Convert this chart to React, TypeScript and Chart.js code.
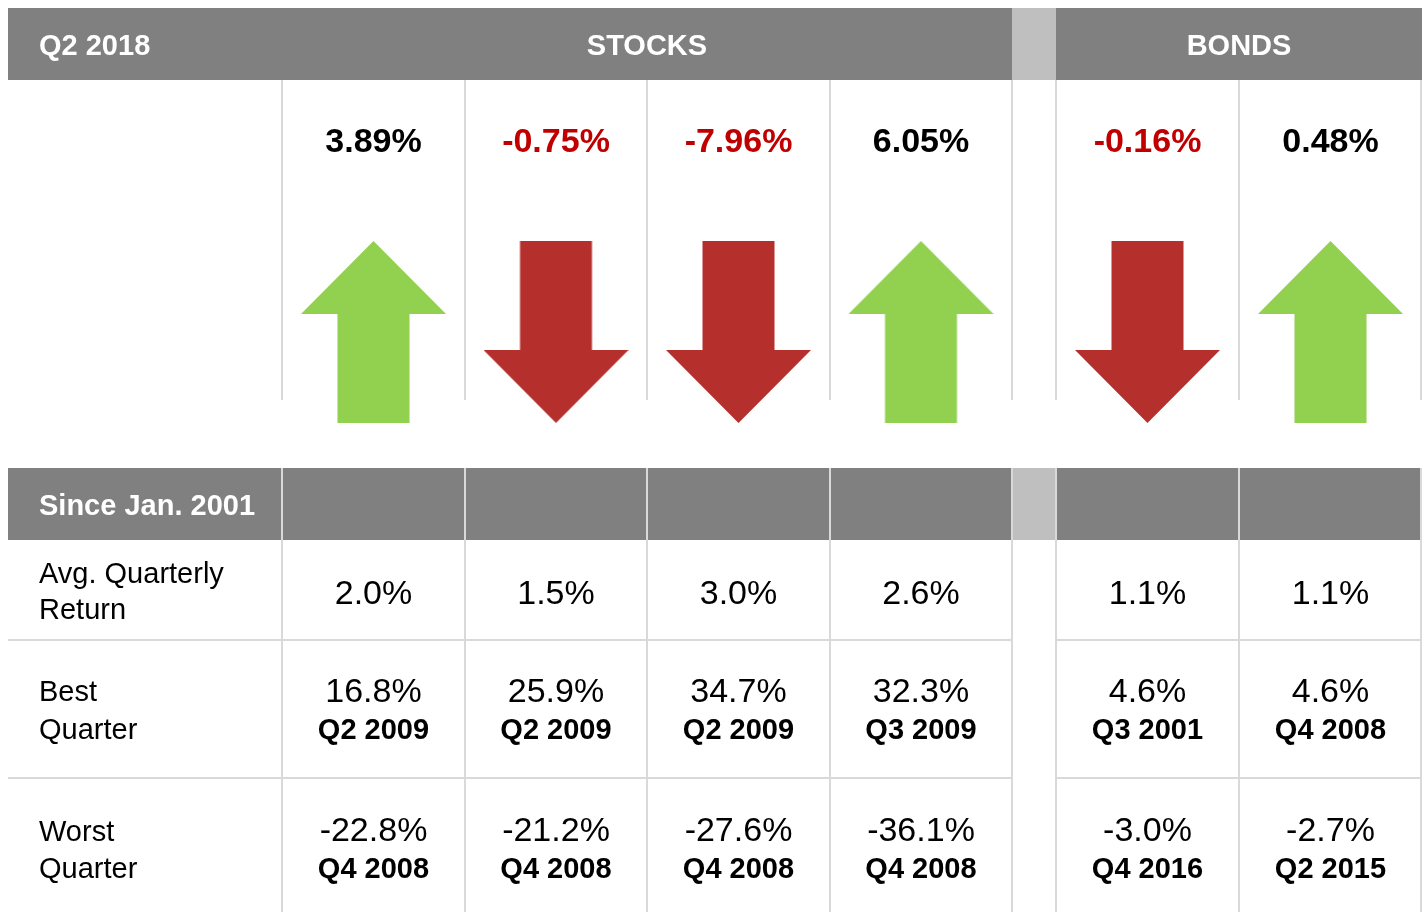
import React, { useEffect, useRef } from "react";
import { Chart, registerables } from "chart.js";

Chart.register(...registerables);

// ---------- data ----------
const PERIOD_LABEL = "Q2 2018";
const SINCE_LABEL = "Since Jan. 2001";
const GROUP_LABELS = ["STOCKS", "BONDS"];
const GROUP_OF_COLUMN = [0, 0, 0, 0, 1, 1];
const QUARTER_RETURNS = [3.89, -0.75, -7.96, 6.05, -0.16, 0.48];
const AVG_RETURNS = [2.0, 1.5, 3.0, 2.6, 1.1, 1.1];
const BEST_RETURNS = [16.8, 25.9, 34.7, 32.3, 4.6, 4.6];
const BEST_QUARTERS = ["Q2 2009", "Q2 2009", "Q2 2009", "Q3 2009", "Q3 2001", "Q4 2008"];
const WORST_RETURNS = [-22.8, -21.2, -27.6, -36.1, -3.0, -2.7];
const WORST_QUARTERS = ["Q4 2008", "Q4 2008", "Q4 2008", "Q4 2008", "Q4 2016", "Q2 2015"];
const ROW_LABELS = [
  ["Avg. Quarterly", "Return"],
  ["Best", "Quarter"],
  ["Worst", "Quarter"],
];

// ---------- layout (pixels) ----------
const W = 1428;
const H = 912;
const LEFT = 8;
const LABEL_RIGHT = 282;
const STOCK_EDGES = [282, 465, 647, 830, 1012];
const GAP = [1012, 1056];
const BOND_EDGES = [1056, 1239, 1422];
const COL_LEFT = [282, 465, 647, 830, 1056, 1239];
const COL_RIGHT = [465, 647, 830, 1012, 1239, 1422];
const ARROW_Y = 332;

const GRAY = "#808080";
const LIGHT = "#bfbfbf";
const LINE = "#d9d9d9";
const GREEN = "#92d050";
const RED_ARROW = "#b5302c";
const RED_TEXT = "#c00000";
const FONT = '"Liberation Sans", Arial, sans-serif';

function makeArrow(up: boolean): HTMLCanvasElement {
  const w = 145, h = 182, head = 73, shaft = 72;
  const c = document.createElement("canvas");
  c.width = w;
  c.height = h;
  const g = c.getContext("2d")!;
  g.fillStyle = up ? GREEN : RED_ARROW;
  g.beginPath();
  const s0 = (w - shaft) / 2, s1 = (w + shaft) / 2;
  if (up) {
    g.moveTo(w / 2, 0);
    g.lineTo(w, head);
    g.lineTo(s1, head);
    g.lineTo(s1, h);
    g.lineTo(s0, h);
    g.lineTo(s0, head);
    g.lineTo(0, head);
  } else {
    g.moveTo(s0, 0);
    g.lineTo(s1, 0);
    g.lineTo(s1, h - head);
    g.lineTo(w, h - head);
    g.lineTo(w / 2, h);
    g.lineTo(0, h - head);
    g.lineTo(s0, h - head);
  }
  g.closePath();
  g.fill();
  return c;
}

const pct1 = (v: number) => v.toFixed(1) + "%";
const pct2 = (v: number) => v.toFixed(2) + "%";

const tablePlugin = {
  id: "tablePlugin",
  beforeDatasetsDraw(chart: any) {
    const ctx = chart.ctx;
    const xs = chart.scales.x;
    const ys = chart.scales.y;
    const px = (v: number) => xs.getPixelForValue(v);
    const py = (v: number) => ys.getPixelForValue(v);
    ctx.save();
    const rect = (x0: number, y0: number, x1: number, y1: number, c: string) => {
      ctx.fillStyle = c;
      ctx.fillRect(px(x0), py(y0), px(x1) - px(x0), py(y1) - py(y0));
    };
    rect(LEFT, 8, GAP[0], 80, GRAY);
    rect(GAP[0], 8, GAP[1], 80, LIGHT);
    rect(GAP[1], 8, BOND_EDGES[2], 80, GRAY);
    rect(LEFT, 468, GAP[0], 540, GRAY);
    rect(GAP[0], 468, GAP[1], 540, LIGHT);
    rect(GAP[1], 468, BOND_EDGES[2], 540, GRAY);

    const edges = [...STOCK_EDGES, ...BOND_EDGES];
    ctx.strokeStyle = LINE;
    ctx.lineWidth = 2;
    const vline = (x: number, y0: number, y1: number) => {
      ctx.beginPath();
      ctx.moveTo(px(x), py(y0));
      ctx.lineTo(px(x), py(y1));
      ctx.stroke();
    };
    const hline = (x0: number, x1: number, y: number) => {
      ctx.beginPath();
      ctx.moveTo(px(x0), py(y));
      ctx.lineTo(px(x1), py(y));
      ctx.stroke();
    };
    edges.forEach((e) => {
      const x = e === 1422 ? 1421 : e;
      vline(x, 80, 400);
      vline(x, 468, H);
    });
    [640, 778].forEach((y) => {
      hline(LEFT, GAP[0], y);
      hline(GAP[1], BOND_EDGES[2], y);
    });
    ctx.restore();
  },
  afterDatasetsDraw(chart: any) {
    const ctx = chart.ctx;
    const xs = chart.scales.x;
    const ys = chart.scales.y;
    const px = (v: number) => xs.getPixelForValue(v);
    const py = (v: number) => ys.getPixelForValue(v);
    ctx.save();
    ctx.textBaseline = "alphabetic";
    const text = (s: string, x: number, y: number, font: string, color: string, align: CanvasTextAlign) => {
      ctx.font = font;
      ctx.fillStyle = color;
      ctx.textAlign = align;
      ctx.fillText(s, px(x), py(y));
    };
    const bold29 = `bold 29px ${FONT}`;
    const reg29 = `29px ${FONT}`;
    const bold34 = `bold 34px ${FONT}`;
    const reg34 = `34px ${FONT}`;

    text(PERIOD_LABEL, 39, 55, bold29, "#ffffff", "left");
    const groupSpans = [
      [LABEL_RIGHT, GAP[0]],
      [GAP[1], BOND_EDGES[2]],
    ];
    GROUP_LABELS.forEach((g, i) => {
      text(g, (groupSpans[i][0] + groupSpans[i][1]) / 2, 55, bold29, "#ffffff", "center");
    });
    text(SINCE_LABEL, 39, 515, bold29, "#ffffff", "left");

    const cx = (i: number) => (COL_LEFT[i] + COL_RIGHT[i]) / 2;
    QUARTER_RETURNS.forEach((v, i) => {
      text(pct2(v), cx(i), 152, bold34, v < 0 ? RED_TEXT : "#000000", "center");
    });

    const labelBase = [
      [583, 619],
      [701, 739],
      [841, 878],
    ];
    ROW_LABELS.forEach((lines, r) => {
      lines.forEach((l, k) => text(l, 39, labelBase[r][k], reg29, "#000000", "left"));
    });

    AVG_RETURNS.forEach((v, i) => text(pct1(v), cx(i), 604, reg34, "#000000", "center"));
    BEST_RETURNS.forEach((v, i) => text(pct1(v), cx(i), 702, reg34, "#000000", "center"));
    BEST_QUARTERS.forEach((q, i) => text(q, cx(i), 739, bold29, "#000000", "center"));
    WORST_RETURNS.forEach((v, i) => text(pct1(v), cx(i), 841, reg34, "#000000", "center"));
    WORST_QUARTERS.forEach((q, i) => text(q, cx(i), 878, bold29, "#000000", "center"));
    ctx.restore();
  },
};

export default function App() {
  const ref = useRef<HTMLCanvasElement | null>(null);
  useEffect(() => {
    if (!ref.current) return;
    const up = makeArrow(true);
    const down = makeArrow(false);
    const points = QUARTER_RETURNS.map((v, i) => ({
      x: (COL_LEFT[i] + COL_RIGHT[i]) / 2,
      y: ARROW_Y,
      v,
      g: GROUP_OF_COLUMN[i],
    }));
    const chart = new Chart(ref.current, {
      type: "scatter",
      data: {
        datasets: [
          {
            label: "Quarter return direction",
            data: points,
            pointStyle: QUARTER_RETURNS.map((v) => (v >= 0 ? up : down)) as any,
            pointRadius: 10,
            pointHoverRadius: 10,
            clip: false as any,
          },
        ],
      },
      options: {
        responsive: false,
        animation: false,
        devicePixelRatio: 1,
        layout: { padding: 0, autoPadding: false },
        events: [],
        plugins: { legend: { display: false }, tooltip: { enabled: false } },
        scales: {
          x: { type: "linear", min: 0, max: W, display: false },
          y: { type: "linear", min: 0, max: H, reverse: true, display: false },
        },
      },
      plugins: [tablePlugin],
    });
    return () => chart.destroy();
  }, []);
  return (
    <div style={{ position: "absolute", left: 0, top: 0, width: W, height: H, background: "#ffffff" }}>
      <canvas ref={ref} width={W} height={H} style={{ width: W, height: H, display: "block" }} />
    </div>
  );
}
